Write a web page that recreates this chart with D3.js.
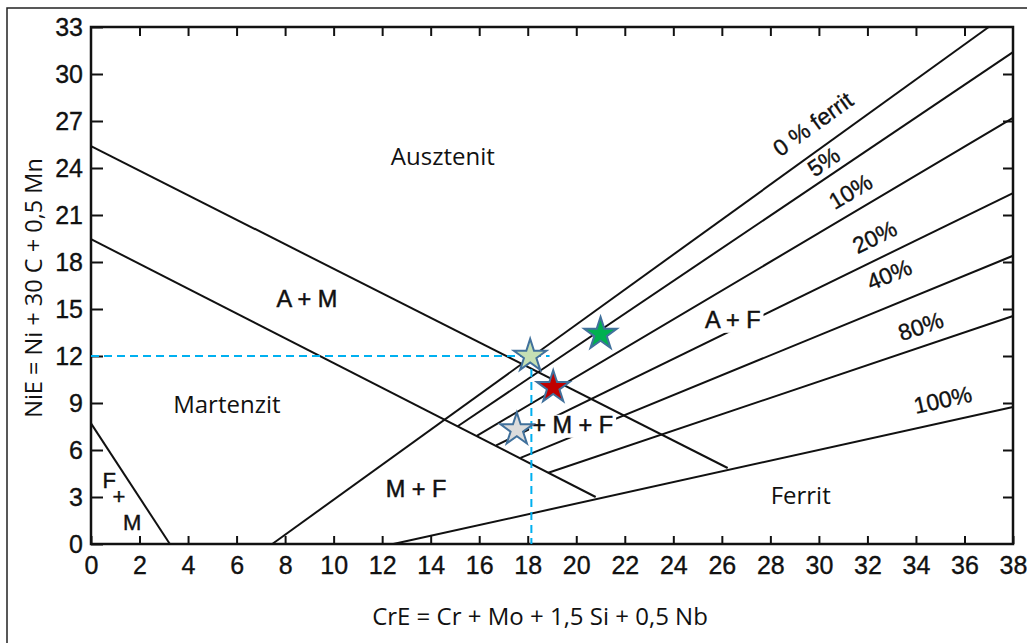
<!DOCTYPE html>
<html>
<head>
<meta charset="utf-8">
<title>Schaeffler diagram</title>
<script src="https://cdn.jsdelivr.net/npm/d3@7"></script>
<style>
  body { margin: 0; background: #fff; }
  svg { display: block; }
  .tick text { font-family: "Liberation Sans", Arial, sans-serif; font-size: 25px; fill: #111; stroke: #111; stroke-width: 0.35; }
  .tick line { stroke: #111; stroke-width: 2; }
</style>
</head>
<body>
<svg width="1027" height="643"></svg>
<script>
// axis ticks
var xTickValues = [0, 2, 4, 6, 8, 10, 12, 14, 16, 18, 20, 22, 24, 26, 28, 30, 32, 34, 36, 38];
var yTickValues = [0, 3, 6, 9, 12, 15, 18, 21, 24, 27, 30, 33];

// phase boundaries [CrE, NiE]
var boundaryStart = [[0, 25.4], [0, 19.46], [0, 7.7]];
var boundaryEnd   = [[26.24, 4.85], [20.8, 3.0], [3.25, 0]];

// ferrite lines
var ferritLabels = ["0 % ferrit", "5%", "10%", "20%", "40%", "80%", "100%"];
var ferritStart = [[7.47, 0], [15.1, 7.5], [15.9, 6.9], [16.7, 6.3], [17.7, 5.5], [18.85, 4.55], [12.46, 0]];
var ferritEnd   = [[37.0, 33], [38, 31.4], [38, 27.2], [38, 22.4], [38, 18.4], [38, 14.55], [38, 8.74]];
var ferritLabelAt = [[29.75, 26.8], [30.2, 24.4], [31.3, 22.5], [32.3, 19.6], [32.9, 17.2], [34.2, 13.9], [35.1, 9.2]];

// samples
var sampleCrE = [18.1, 21.0, 19.05, 17.55];
var sampleNiE = [12.0, 13.4, 10.0, 7.3];
var starColors = ["#c5e0b4", "#00b050", "#c00000", "#dcdcdc"];

// guide for first sample
var guideCrE = 18.15, guideNiE = 12.0, guideEndCrE = 18.9;

var svg = d3.select("svg");

// outer frame of the picture
svg.append("rect")
  .attr("x", 7).attr("y", 8).attr("width", 1040).attr("height", 660)
  .attr("fill", "none").attr("stroke", "#222").attr("stroke-width", 1.5);

var x = d3.scaleLinear().domain([0, 38]).range([91, 1013]);
var y = d3.scaleLinear().domain([0, 33]).range([544, 27]);

// axes, ticks pointing inwards
svg.append("g")
  .attr("transform", "translate(" + x(0) + ",0)")
  .call(d3.axisLeft(y).tickValues(yTickValues).tickSizeInner(-12).tickSizeOuter(0).tickPadding(8))
  .call(function(g) { g.select(".domain").remove(); });

svg.append("g")
  .attr("transform", "translate(0," + y(0) + ")")
  .call(d3.axisBottom(x).tickValues(xTickValues).tickSizeInner(-8).tickSizeOuter(0).tickPadding(12))
  .call(function(g) { g.select(".domain").remove(); });

svg.append("g")
  .attr("transform", "translate(0," + y(33) + ")")
  .call(d3.axisTop(x).tickValues(xTickValues.slice(1, -1)).tickSizeInner(-9).tickSizeOuter(0).tickFormat(""))
  .call(function(g) { g.select(".domain").remove(); });

svg.append("g")
  .attr("transform", "translate(" + x(38) + ",0)")
  .call(d3.axisRight(y).tickValues(yTickValues.slice(1, -1)).tickSizeInner(-10).tickSizeOuter(0).tickFormat(""))
  .call(function(g) { g.select(".domain").remove(); });

svg.append("rect")
  .attr("x", x(0)).attr("y", y(33))
  .attr("width", x(38) - x(0)).attr("height", y(0) - y(33))
  .attr("fill", "none").attr("stroke", "#111").attr("stroke-width", 2.5);

var lineGen = d3.line().x(function(d) { return x(d[0]); }).y(function(d) { return y(d[1]); });

// boundary lines
svg.selectAll(".bound")
  .data(boundaryStart)
  .enter().append("path")
  .attr("class", "bound")
  .attr("d", function(d, i) { return lineGen([d, boundaryEnd[i]]); })
  .attr("stroke", "#111").attr("stroke-width", 2).attr("fill", "none");

svg.selectAll(".ferrit")
  .data(ferritStart)
  .enter().append("path")
  .attr("class", "ferrit")
  .attr("d", function(d, i) { return lineGen([d, ferritEnd[i]]); })
  .attr("stroke", "#111").attr("stroke-width", 2).attr("fill", "none");

// ferrite labels, rotated along their line
svg.selectAll(".flab")
  .data(ferritLabels)
  .enter().append("text")
  .attr("class", "flab")
  .attr("text-anchor", "middle")
  .attr("dy", "0.35em")
  .attr("font-family", "Liberation Sans, Arial, sans-serif")
  .attr("font-size", 23)
  .attr("fill", "#111")
  .attr("stroke", "#111").attr("stroke-width", 0.35)
  .attr("transform", function(d, i) {
    var a = ferritStart[i], b = ferritEnd[i];
    var ang = Math.atan2(y(b[1]) - y(a[1]), x(b[0]) - x(a[0])) * 180 / Math.PI;
    return "translate(" + x(ferritLabelAt[i][0]) + "," + y(ferritLabelAt[i][1]) + ") rotate(" + ang + ")";
  })
  .text(function(d) { return d; });

// phase labels (scan style): lines break under the text
var phaseText = ["A + M", "M + F", "A + F", "+ M + F"];
var phaseAt = [[8.9, 15.1], [13.4, 3.0], [26.45, 13.8], [19.85, 7.1]];
var phase = svg.append("g")
  .attr("font-family", "Liberation Sans, Arial, sans-serif")
  .attr("font-size", 23.5)
  .attr("text-anchor", "middle");
var gaps = phase.append("g");
phase.selectAll(".plab")
  .data(phaseText)
  .enter().append("text")
  .attr("class", "plab")
  .attr("x", function(d, i) { return x(phaseAt[i][0]); })
  .attr("y", function(d, i) { return y(phaseAt[i][1]); })
  .attr("fill", "#111").attr("stroke", "#111").attr("stroke-width", 0.5)
  .text(function(d) { return d; })
  .each(function() {
    var b = this.getBBox();
    gaps.append("rect")
      .attr("x", b.x - 3).attr("y", b.y + 3)
      .attr("width", b.width + 6).attr("height", b.height - 3)
      .attr("fill", "#fff");
  });

// stacked F + M in one text
var fmText = ["F", "+", "M"];
var fmAt = [[0.75, 3.6], [1.15, 2.55], [1.7, 0.9]];
svg.append("text")
  .attr("text-anchor", "middle")
  .attr("font-family", "Liberation Sans, Arial, sans-serif")
  .attr("font-size", 22)
  .attr("fill", "#111")
  .attr("stroke", "#111").attr("stroke-width", 0.4)
  .selectAll("tspan")
  .data(fmText)
  .enter().append("tspan")
  .attr("x", function(d, i) { return x(fmAt[i][0]); })
  .attr("y", function(d, i) { return y(fmAt[i][1]); })
  .text(function(d) { return d; });

// region names (office style)
var regionText = ["Ausztenit", "Martenzit", "Ferrit"];
var regionAt = [[14.5, 24.2], [5.6, 8.36], [29.25, 2.55]];
svg.selectAll(".rlab")
  .data(regionText)
  .enter().append("text")
  .attr("class", "rlab")
  .attr("x", function(d, i) { return x(regionAt[i][0]); })
  .attr("y", function(d, i) { return y(regionAt[i][1]); })
  .attr("text-anchor", "middle")
  .attr("font-family", "Open Sans, sans-serif")
  .attr("font-size", 24)
  .attr("fill", "#111")
  .text(function(d) { return d; });

// dashed guide
svg.append("path")
  .attr("d", lineGen([[0, guideNiE], [guideEndCrE, guideNiE]]))
  .attr("stroke", "#00b0f0").attr("stroke-width", 2).attr("stroke-dasharray", "8,5").attr("fill", "none");
svg.append("path")
  .attr("d", lineGen([[guideCrE, guideNiE], [guideCrE, 0]]))
  .attr("stroke", "#00b0f0").attr("stroke-width", 2).attr("stroke-dasharray", "8,5").attr("fill", "none");

// sample stars
var star = d3.symbol().type(d3.symbolStar).size(330);
svg.selectAll(".star")
  .data(sampleCrE)
  .enter().append("path")
  .attr("class", "star")
  .attr("d", star)
  .attr("transform", function(d, i) { return "translate(" + x(d) + "," + y(sampleNiE[i]) + ")"; })
  .attr("fill", function(d, i) { return starColors[i]; })
  .attr("stroke", "#41719c").attr("stroke-width", 2);

// axis titles
svg.append("text")
  .attr("x", 540).attr("y", 625)
  .attr("text-anchor", "middle")
  .attr("font-family", "Open Sans, sans-serif")
  .attr("font-size", 24)
  .attr("fill", "#111")
  .text("CrE = Cr + Mo + 1,5 Si + 0,5 Nb");

svg.append("text")
  .attr("transform", "translate(42,288) rotate(-90)")
  .attr("text-anchor", "middle")
  .attr("font-family", "Open Sans, sans-serif")
  .attr("font-size", 23.5)
  .attr("fill", "#111")
  .text("NiE = Ni + 30 C + 0,5 Mn");
</script>
</body>
</html>
